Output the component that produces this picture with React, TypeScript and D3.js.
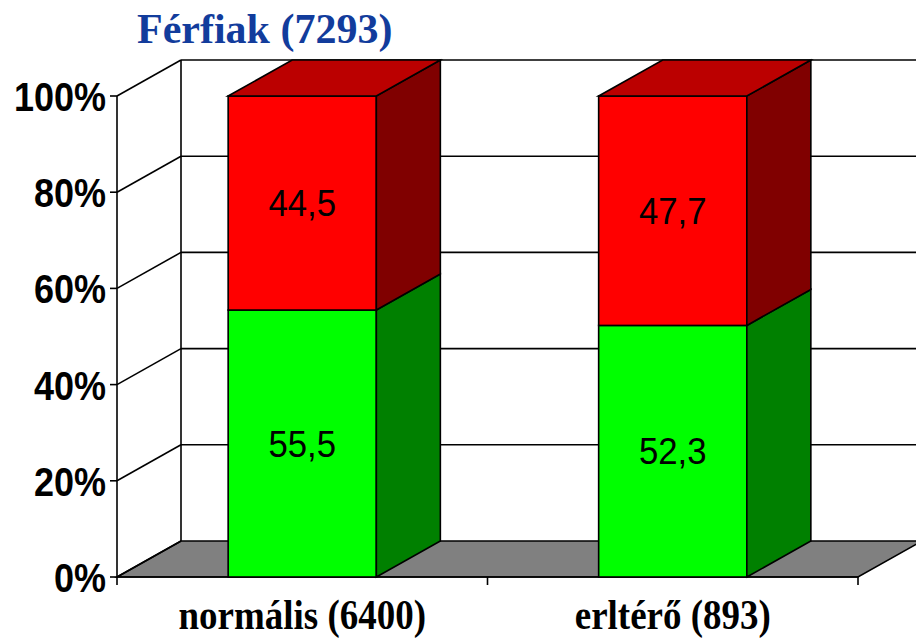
import React from "react";
import * as d3 from "d3";

const W = 916;
const H = 640;
const PLOT = { left: 117, right: 858, top: 96, bottom: 577 };
const DEPTH = { dx: 64, dy: 36 };

const title = "Férfiak (7293)";
const categories = ["normális (6400)", "erltérő (893)"];
const normalValues = [55.5, 52.3];
const abnormalValues = [44.5, 47.7];
const yTicks = [0, 20, 40, 60, 80, 100];

const series = [
  { key: "normal", values: normalValues, front: "#00ff00", side: "#008000", top: "#00c000" },
  { key: "abnormal", values: abnormalValues, front: "#ff0000", side: "#800000", top: "#bb0000" },
];

const fmt = (v: number) => v.toFixed(1).replace(".", ",");

export default function App() {
  const y = d3.scaleLinear().domain([0, 100]).range([PLOT.bottom, PLOT.top]);
  const x = d3
    .scaleBand<string>()
    .domain(categories)
    .range([PLOT.left, PLOT.right])
    .paddingInner(0.6)
    .paddingOuter(0.3);

  const { dx, dy } = DEPTH;
  const bw = x.bandwidth();
  const step = x.step();
  const boundaries = d3.range(categories.length + 1).map((i) => PLOT.left + i * step);

  // stack the two series per category
  const stacked = d3
    .stack<any, any, string>()
    .keys(series.map((s) => s.key))(
      categories.map((c, i) => ({ cat: c, normal: normalValues[i], abnormal: abnormalValues[i] }))
    );

  const line = { stroke: "#000", strokeWidth: 1.6, fill: "none" };

  return (
    <svg width={W} height={H} style={{ position: "fixed", left: 0, top: 0, background: "#fff" }}>
      {/* title */}
      <text
        x={137}
        y={43}
        fontFamily="'Liberation Serif', 'Times New Roman', serif"
        fontWeight="bold"
        fontSize={42}
        fill="#123c9c"
      >
        {title}
      </text>

      {/* floor */}
      <polygon
        points={[
          [PLOT.left, PLOT.bottom],
          [PLOT.right, PLOT.bottom],
          [PLOT.right + dx, PLOT.bottom - dy],
          [PLOT.left + dx, PLOT.bottom - dy],
        ]
          .map((p) => p.join(","))
          .join(" ")}
        fill="#808080"
        stroke="#000"
        strokeWidth={1.6}
      />

      {/* walls and gridlines */}
      <line x1={PLOT.left + dx} y1={y(100) - dy} x2={PLOT.left + dx} y2={y(0) - dy} {...line} />
      {yTicks.map((t) => (
        <g key={t}>
          <line x1={PLOT.left} y1={y(t)} x2={PLOT.left + dx} y2={y(t) - dy} {...line} />
          {t > 0 && (
            <line x1={PLOT.left + dx} y1={y(t) - dy} x2={W} y2={y(t) - dy} {...line} />
          )}
          <line x1={PLOT.left - 7} y1={y(t)} x2={PLOT.left} y2={y(t)} {...line} />
          <g transform={`translate(106,${y(t) + 15}) scale(0.9,1)`}>
            <text
              textAnchor="end"
              fontFamily="'Liberation Sans', Arial, sans-serif"
              fontWeight="bold"
              fontSize={40}
              fill="#000"
            >
              {t}%
            </text>
          </g>
        </g>
      ))}

      {/* front axes */}
      <line x1={PLOT.left} y1={y(0)} x2={PLOT.left} y2={y(100)} {...line} />
      <line x1={PLOT.left} y1={y(0)} x2={PLOT.right} y2={y(0)} {...line} />
      {boundaries.map((b, i) => (
        <line key={i} x1={b} y1={y(0)} x2={b} y2={y(0) + 8} {...line} />
      ))}

      {/* bars */}
      {categories.map((c, ci) => {
        const x0 = x(c)!;
        const x1 = x0 + bw;
        return (
          <g key={c}>
            {stacked.map((layer, si) => {
              const s = series[si];
              const [v0, v1] = layer[ci];
              const yb = y(v0);
              const yt = y(v1);
              const isTop = si === stacked.length - 1;
              return (
                <g key={s.key}>
                  <rect x={x0} y={yt} width={bw} height={yb - yt} fill={s.front} stroke="#000" strokeWidth={1.6} />
                  <polygon
                    points={`${x1},${yb} ${x1 + dx},${yb - dy} ${x1 + dx},${yt - dy} ${x1},${yt}`}
                    fill={s.side}
                    stroke="#000"
                    strokeWidth={1.6}
                  />
                  {isTop && (
                    <polygon
                      points={`${x0},${yt} ${x0 + dx},${yt - dy} ${x1 + dx},${yt - dy} ${x1},${yt}`}
                      fill={s.top}
                      stroke="#000"
                      strokeWidth={1.6}
                    />
                  )}
                  <g transform={`translate(${x0 + bw / 2},${(yt + yb) / 2 + 13}) scale(0.94,1)`}>
                    <text
                      textAnchor="middle"
                      fontFamily="'Liberation Sans', Arial, sans-serif"
                      fontSize={37}
                      fill="#000"
                    >
                      {fmt(s.values[ci])}
                    </text>
                  </g>
                </g>
              );
            })}
            <g transform={`translate(${x0 + bw / 2},629) scale(0.86,1)`}>
              <text
                textAnchor="middle"
                fontFamily="'Liberation Serif', 'Times New Roman', serif"
                fontWeight="bold"
                fontSize={43}
                fill="#000"
              >
                {c}
              </text>
            </g>
          </g>
        );
      })}
    </svg>
  );
}
